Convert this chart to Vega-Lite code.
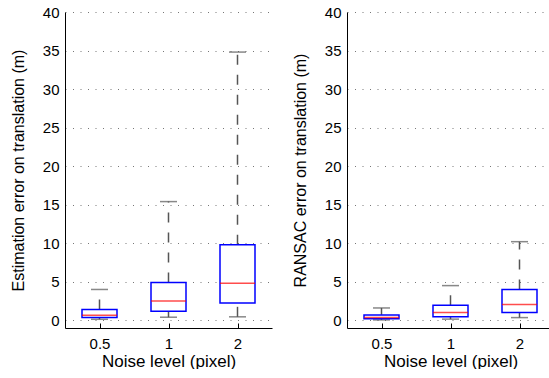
{
  "$schema": "https://vega.github.io/schema/vega-lite/v6.json",
  "autosize": {"type": "pad"},
  "padding": {"left": 10, "top": 5, "right": 0, "bottom": 0},
  "background": "white",
  "config": {
    "font": "Liberation Sans",
    "view": {"stroke": null},
    "concat": {"spacing": 75},
    "axis": {
      "labelFont": "Liberation Sans",
      "titleFont": "Liberation Sans",
      "titleFontWeight": "normal",
      "labelColor": "black",
      "titleColor": "black",
      "domainColor": "black",
      "tickColor": "black"
    },
    "axisX": {"labelFontSize": 15, "titleFontSize": 17},
    "axisY": {"labelFontSize": 15, "titleFontSize": 16}
  },
  "data": {
    "values": [
      {"panel": "est", "noise": "0.5", "lo": 0.13, "q1": 0.35, "med": 0.65, "q3": 1.4, "hi": 4.0},
      {"panel": "est", "noise": "1", "lo": 0.4, "q1": 1.17, "med": 2.5, "q3": 4.9, "hi": 15.4},
      {"panel": "est", "noise": "2", "lo": 0.45, "q1": 2.25, "med": 4.8, "q3": 9.8, "hi": 34.8},
      {"panel": "ransac", "noise": "0.5", "lo": 0.05, "q1": 0.2, "med": 0.35, "q3": 0.7, "hi": 1.6},
      {"panel": "ransac", "noise": "1", "lo": 0.15, "q1": 0.45, "med": 1.0, "q3": 1.95, "hi": 4.5},
      {"panel": "ransac", "noise": "2", "lo": 0.35, "q1": 1.0, "med": 2.05, "q3": 4.0, "hi": 10.2}
    ]
  },
  "bounds": "flush",
  "hconcat": [
    {
      "width": 207,
      "height": 316,
      "transform": [{"filter": "datum.panel === 'est'"}],
      "encoding": {
        "x": {
          "field": "noise", "type": "nominal", "sort": null,
          "scale": {"type": "point", "padding": 0.5},
          "axis": {"title": "Noise level (pixel)", "labelAngle": 0, "tickSize": -5, "labelPadding": 13, "titlePadding": 2, "grid": false}
        }
      },
      "layer": [
        {
          "mark": {"type": "rule", "color": "#555", "strokeWidth": 1.5, "strokeDash": [10, 10]},
          "encoding": {
            "y": {"field": "q3", "type": "quantitative", "scale": {"domain": [-1, 40], "nice": false, "zero": false},
              "axis": {"title": "Estimation error on translation (m)", "values": [0, 5, 10, 15, 20, 25, 30, 35, 40], "tickCount": 9, "grid": true, "gridDash": [1, 6.5], "gridColor": "#777", "gridWidth": 1, "ticks": false, "labelPadding": 6, "titlePadding": 16}},
            "y2": {"field": "hi"}
          }
        },
        {
          "mark": {"type": "rule", "color": "#555", "strokeWidth": 1.5, "strokeDash": [10, 10]},
          "encoding": {"y": {"field": "lo", "type": "quantitative", "axis": {"title": "Estimation error on translation (m)", "values": [0, 5, 10, 15, 20, 25, 30, 35, 40], "tickCount": 9, "grid": true, "gridDash": [1, 6.5], "gridColor": "#777", "gridWidth": 1, "ticks": false, "labelPadding": 6, "titlePadding": 16}}, "y2": {"field": "q1"}}
        },
        {
          "mark": {"type": "tick", "color": "#555", "thickness": 1.5, "size": 17},
          "encoding": {"y": {"field": "hi", "type": "quantitative", "axis": {"title": "Estimation error on translation (m)", "values": [0, 5, 10, 15, 20, 25, 30, 35, 40], "tickCount": 9, "grid": true, "gridDash": [1, 6.5], "gridColor": "#777", "gridWidth": 1, "ticks": false, "labelPadding": 6, "titlePadding": 16}}}
        },
        {
          "mark": {"type": "tick", "color": "#555", "thickness": 1.5, "size": 17},
          "encoding": {"y": {"field": "lo", "type": "quantitative", "axis": {"title": "Estimation error on translation (m)", "values": [0, 5, 10, 15, 20, 25, 30, 35, 40], "tickCount": 9, "grid": true, "gridDash": [1, 6.5], "gridColor": "#777", "gridWidth": 1, "ticks": false, "labelPadding": 6, "titlePadding": 16}}}
        },
        {
          "mark": {"type": "bar", "width": 35, "fill": "white", "stroke": "#0000ff", "strokeWidth": 1.5},
          "encoding": {"y": {"field": "q1", "type": "quantitative", "axis": {"title": "Estimation error on translation (m)", "values": [0, 5, 10, 15, 20, 25, 30, 35, 40], "tickCount": 9, "grid": true, "gridDash": [1, 6.5], "gridColor": "#777", "gridWidth": 1, "ticks": false, "labelPadding": 6, "titlePadding": 16}}, "y2": {"field": "q3"}}
        },
        {
          "mark": {"type": "tick", "color": "#ff0000", "thickness": 1.5, "size": 35},
          "encoding": {"y": {"field": "med", "type": "quantitative", "axis": {"title": "Estimation error on translation (m)", "values": [0, 5, 10, 15, 20, 25, 30, 35, 40], "tickCount": 9, "grid": true, "gridDash": [1, 6.5], "gridColor": "#777", "gridWidth": 1, "ticks": false, "labelPadding": 6, "titlePadding": 16}}}
        }
      ]
    },
    {
      "width": 207,
      "height": 316,
      "transform": [{"filter": "datum.panel === 'ransac'"}],
      "encoding": {
        "x": {
          "field": "noise", "type": "nominal", "sort": null,
          "scale": {"type": "point", "padding": 0.5},
          "axis": {"title": "Noise level (pixel)", "labelAngle": 0, "tickSize": -5, "labelPadding": 13, "titlePadding": 2, "grid": false}
        }
      },
      "layer": [
        {
          "mark": {"type": "rule", "color": "#555", "strokeWidth": 1.5, "strokeDash": [10, 10]},
          "encoding": {
            "y": {"field": "q3", "type": "quantitative", "scale": {"domain": [-1, 40], "nice": false, "zero": false},
              "axis": {"title": "RANSAC error on translation (m)", "values": [0, 5, 10, 15, 20, 25, 30, 35, 40], "tickCount": 9, "grid": true, "gridDash": [1, 6.5], "gridColor": "#777", "gridWidth": 1, "ticks": false, "labelPadding": 6, "titlePadding": 16}},
            "y2": {"field": "hi"}
          }
        },
        {
          "mark": {"type": "rule", "color": "#555", "strokeWidth": 1.5, "strokeDash": [10, 10]},
          "encoding": {"y": {"field": "lo", "type": "quantitative", "axis": {"title": "RANSAC error on translation (m)", "values": [0, 5, 10, 15, 20, 25, 30, 35, 40], "tickCount": 9, "grid": true, "gridDash": [1, 6.5], "gridColor": "#777", "gridWidth": 1, "ticks": false, "labelPadding": 6, "titlePadding": 16}}, "y2": {"field": "q1"}}
        },
        {
          "mark": {"type": "tick", "color": "#555", "thickness": 1.5, "size": 17},
          "encoding": {"y": {"field": "hi", "type": "quantitative", "axis": {"title": "RANSAC error on translation (m)", "values": [0, 5, 10, 15, 20, 25, 30, 35, 40], "tickCount": 9, "grid": true, "gridDash": [1, 6.5], "gridColor": "#777", "gridWidth": 1, "ticks": false, "labelPadding": 6, "titlePadding": 16}}}
        },
        {
          "mark": {"type": "tick", "color": "#555", "thickness": 1.5, "size": 17},
          "encoding": {"y": {"field": "lo", "type": "quantitative", "axis": {"title": "RANSAC error on translation (m)", "values": [0, 5, 10, 15, 20, 25, 30, 35, 40], "tickCount": 9, "grid": true, "gridDash": [1, 6.5], "gridColor": "#777", "gridWidth": 1, "ticks": false, "labelPadding": 6, "titlePadding": 16}}}
        },
        {
          "mark": {"type": "bar", "width": 35, "fill": "white", "stroke": "#0000ff", "strokeWidth": 1.5},
          "encoding": {"y": {"field": "q1", "type": "quantitative", "axis": {"title": "RANSAC error on translation (m)", "values": [0, 5, 10, 15, 20, 25, 30, 35, 40], "tickCount": 9, "grid": true, "gridDash": [1, 6.5], "gridColor": "#777", "gridWidth": 1, "ticks": false, "labelPadding": 6, "titlePadding": 16}}, "y2": {"field": "q3"}}
        },
        {
          "mark": {"type": "tick", "color": "#ff0000", "thickness": 1.5, "size": 35},
          "encoding": {"y": {"field": "med", "type": "quantitative", "axis": {"title": "RANSAC error on translation (m)", "values": [0, 5, 10, 15, 20, 25, 30, 35, 40], "tickCount": 9, "grid": true, "gridDash": [1, 6.5], "gridColor": "#777", "gridWidth": 1, "ticks": false, "labelPadding": 6, "titlePadding": 16}}}
        }
      ]
    }
  ]
}
